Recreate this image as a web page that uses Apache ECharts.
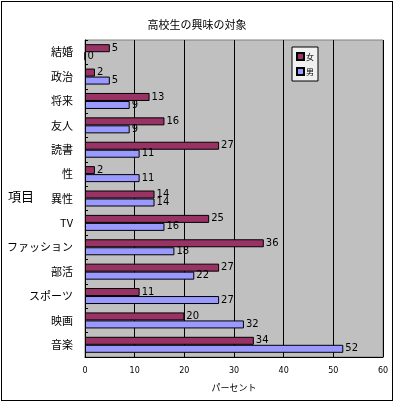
<!DOCTYPE html>
<html><head><meta charset="utf-8">
<script src="https://cdn.jsdelivr.net/npm/echarts@6/dist/echarts.min.js"></script>
<style>html,body{margin:0;padding:0;background:#fff}#c{width:394px;height:402px}
#frame{position:absolute;left:1px;top:1px;width:390px;height:398px;border:1px solid #000;pointer-events:none}</style>
</head><body><div id="c"></div><div id="frame"></div>
<script>
const categories = ['結婚','政治','将来','友人','読書','性','異性','TV','ファッション','部活','スポーツ','映画','音楽'];
const female = [5,2,13,16,27,2,14,25,36,27,11,20,34];
const male = [0,5,9,9,11,11,14,16,18,22,27,32,52];
const xTicks = [0,10,20,30,40,50,60];
const font = '"Noto Sans CJK JP", sans-serif';
const chart = echarts.init(document.getElementById('c'));
const lbl = {show:true, position:'right', color:'#000', fontSize:10, fontFamily:'DejaVu Sans', distance:2};
chart.setOption({
  animation:false,
  title:{text:'高校生の興味の対象', left:'center', top:14, textStyle:{fontSize:11, fontWeight:'normal', color:'#000', fontFamily:font}},
  legend:{orient:'vertical', left:292, top:47, itemWidth:7, itemHeight:7, itemGap:6, padding:[5,4,5,4], icon:'rect',
    backgroundColor:'#f0f0f0', borderColor:'#000', borderWidth:1,
    textStyle:{fontSize:8, color:'#000', fontFamily:font, padding:[0,0,0,-3]}, data:['女','男']},
  graphic:[{type:'text', left:8, top:190, style:{text:'項目', fontSize:13, fill:'#000', fontFamily:font}}],
  grid:{left:85, top:40, right:11, bottom:45, containLabel:false, outerBoundsMode:'none', show:true, backgroundColor:'#c0c0c0', borderColor:'#808080', borderWidth:1},
  xAxis:{type:'value', min:xTicks[0], max:xTicks[xTicks.length-1], interval:10,
    name:'パーセント', nameLocation:'middle', nameGap:26, nameTextStyle:{fontSize:9, color:'#000', fontFamily:font},
    axisLine:{show:true, lineStyle:{color:'#000'}}, axisTick:{show:false},
    axisLabel:{fontSize:8, color:'#000', margin:10, fontFamily:'DejaVu Sans'},
    splitLine:{show:true, lineStyle:{color:'#000', width:1}}},
  yAxis:{type:'category', data:categories, inverse:true,
    axisLine:{show:true, lineStyle:{color:'#000'}},
    axisTick:{show:true, inside:true, length:3, lineStyle:{color:'#000'}},
    axisLabel:{fontSize:11, color:'#000', margin:12, fontFamily:font}},
  series:[
    {name:'女', type:'bar', data:female, barWidth:8, barGap:'0%', itemStyle:{color:'#993366', borderColor:'#000', borderWidth:1}, label:lbl},
    {name:'男', type:'bar', data:male, barWidth:8, barGap:'0%', itemStyle:{color:'#9999ff', borderColor:'#000', borderWidth:1}, label:lbl}
  ]
});
</script></body></html>
